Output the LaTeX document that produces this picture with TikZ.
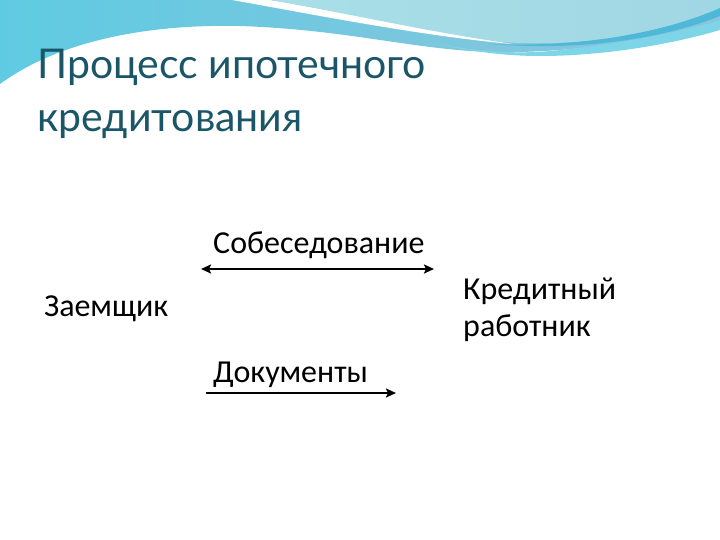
\documentclass[tikz,border=0pt]{standalone}
\usepackage{fontspec}
\setmainfont{Carlito}
\newfontfamily\titlefont{Lato}
\usetikzlibrary{arrows.meta}
\definecolor{titlecol}{HTML}{1A5568}
\definecolor{waveA}{HTML}{6FD0E6}
\definecolor{waveB}{HTML}{8CC4DC}
\definecolor{waveC}{HTML}{A9DFE7}
\definecolor{waveD}{HTML}{4DB8D8}
\definecolor{waveE}{HTML}{5FCBE2}
\tikzset{
  body/.style={font=\fontsize{32}{38}\selectfont, anchor=base west, inner sep=0pt, text=black},
  ttl/.style={font=\titlefont\fontsize{41}{48}\selectfont, anchor=base west, inner sep=0pt, text=titlecol},
  tip/.tip={Stealth[length=10pt,width=9pt,inset=2pt]},
  conn/.style={line width=2.6pt, -tip},
}
\begin{document}
\begin{tikzpicture}[x=1pt,y=-1pt]
\useasboundingbox (0,0) rectangle (720,540);
\fill[white] (0,0) rectangle (720,540);
% waves
\shade[left color=waveE, right color=waveB] (0,0) -- (0,84) .. controls (60,40) and (150,24) .. (240,26) .. controls (360,30) and (430,55) .. (520,52) .. controls (600,50) and (680,35) .. (720,22) -- (720,0) -- cycle;
\fill[waveE!80!white] (420,40) .. controls (470,52) and (520,55) .. (560,50) .. controls (620,44) and (690,30) .. (720,20) -- (720,30) .. controls (680,42) and (610,56) .. (540,56) .. controls (500,56) and (460,50) .. (420,40) -- cycle;
\fill[white] (232,0) .. controls (300,12) and (420,36) .. (512,44) .. controls (430,30) and (320,8) .. (270,0) -- cycle;
\shade[left color=waveC, right color=waveC!70!waveB] (270,0) .. controls (330,10) and (430,32) .. (500,42) .. controls (600,48) and (680,30) .. (720,8) -- (720,0) -- cycle;
\fill[waveD] (490,44) .. controls (590,48) and (670,30) .. (720,8) -- (720,16) .. controls (670,36) and (590,52) .. (490,44) -- cycle;
% title
\node[ttl] (t1) at (37,79) {Процесс ипотечного};
\node[ttl] (t2) at (37,132) {кредитования};
% body
\node[body] (sob) at (213,253) {Собеседование};
\node[body] (zaem) at (44,316) {Заемщик};
\node[body] (kred1) at (463,299) {Кредитный};
\node[body] (kred2) at (463,336) {работник};
\node[body] (doc) at (213,382) {Документы};
\coordinate (a1s) at (201,269);
\coordinate (a1e) at (434,269);
\coordinate (a2s) at (206,393);
\coordinate (a2e) at (396,393);
\draw[conn, tip-tip] (a1s) -- (a1e);
\draw[conn] (a2s) -- (a2e);
\end{tikzpicture}
\end{document}
